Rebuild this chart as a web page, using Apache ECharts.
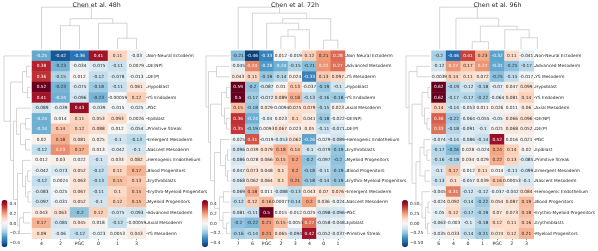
<!DOCTYPE html>
<html><head><meta charset="utf-8">
<script src="https://cdn.jsdelivr.net/npm/echarts@6/dist/echarts.min.js"></script>
<style>html,body{margin:0;padding:0;background:#fff}#c{width:598px;height:251px}</style>
</head><body><div id="c"></div>
<script>
// ---------- DATA ----------
const title48 = 'Chen et al. 48h';
const cols48 = ['4','2','PGC','0','1','3'];
const rows48 = ['Non-Neural Ectoderm','DE(NP)','DE(P)','Hypoblast','YS Endoderm','PGC','Epiblast','Primitive Streak','Emergent Mesoderm','Nascent Mesoderm','Hemogenic Endothelium','Blood Progenitors','Erythroblasts','Erythro-Myeloid Progenitors','Myeloid Progenitors','Advanced Mesoderm','Axial Mesoderm','YS Mesoderm'];
const vals48 = [
 [-0.25,-0.42,-0.36,0.41,0.11,-0.03],
 [0.38,-0.23,-0.034,-0.075,-0.11,0.0079],
 [0.36,-0.15,0.012,-0.12,-0.078,-0.013],
 [0.52,-0.23,-0.075,-0.18,-0.11,0.061],
 [0.41,-0.24,-0.096,-0.23,-0.00059,0.12],
 [-0.089,-0.039,0.43,-0.039,-0.015,-0.025],
 [-0.24,0.014,0.11,0.053,0.093,0.0026],
 [-0.24,0.14,0.12,0.088,0.012,-0.054],
 [0.02,0.18,0.081,0.025,-0.1,-0.13],
 [-0.12,0.23,0.17,0.013,-0.042,-0.1],
 [0.012,0.03,0.022,-0.1,0.033,0.082],
 [-0.042,-0.073,0.052,-0.12,0.11,0.17],
 [-0.12,0.0024,0.063,-0.13,0.15,0.13],
 [-0.083,-0.025,0.067,-0.11,0.1,0.15],
 [-0.097,-0.031,0.052,-0.1,0.12,0.15],
 [0.043,0.063,-0.2,0.12,-0.075,-0.093],
 [0.17,-0.085,0.045,0.018,-0.12,-0.00059],
 [0.09,-0.06,-0.12,-0.023,0.0053,0.043]
];
const top48 = [[4,5,11],[3,'m0',26],[1,2,23.5],['m2','m1',30.5],[0,'m3',42]];
const left48 = [[1,2,4],[3,4,3],['m0','m1',8],[6,7,5],[8,9,5],['m3','m4',10],[5,'m5',14],[11,12,3],[13,14,2.5],['m7','m8',5],[10,'m9',8],[15,16,7],['m11',17,11],['m10','m12',13],['m6','m13',17],['m2','m14',20],[0,'m15',26.5]];
const vmax48 = 0.49;
const cbTicks48 = [0.4,0.2,0,-0.2,-0.4];
const cbLabels48 = ['0.4','0.2','0.0','\u22120.2','\u22120.4'];

const title72 = 'Chen et al. 72h';
const cols72 = ['7','6','PGC','2','3','4','0','1'];
const rows72 = ['Non Neural Ectoderm','Advanced Mesoderm','YS Mesoderm','Hypoblast','YS Endoderm','Axial Mesoderm','DE(NP)','DE(P)','Hemogenic Endothelium','Erythroblasts','Myeloid Progenitors','Blood Progenitors','Erythro-Myeloid Progenitors','Emergent Mesoderm','Nascent Mesoderm','PGC','Epiblast','Primitive Streak'];
const vals72 = [
 [-0.21,-0.46,-0.33,0.012,-0.019,0.12,0.21,0.28],
 [-0.045,0.24,-0.28,-0.24,-0.15,-0.21,0.22,0.27],
 [0.043,0.11,-0.19,-0.14,0.024,-0.33,0.13,0.097],
 [0.59,-0.2,-0.087,0.01,0.13,-0.037,-0.19,-0.1],
 [0.5,-0.17,-0.072,0.089,0.18,-0.13,-0.16,-0.18],
 [0.15,-0.18,0.029,-0.0094,0.075,0.079,-0.15,0.023],
 [0.36,-0.24,-0.04,0.023,0.1,0.041,-0.18,-0.022],
 [0.35,-0.19,0.0093,0.067,0.023,0.05,-0.11,-0.071],
 [-0.025,0.31,-0.019,-0.053,0.062,-0.26,-0.029,-0.089],
 [-0.096,0.039,0.079,0.18,0.14,-0.1,-0.079,-0.19],
 [-0.086,0.028,0.066,0.15,0.2,-0.2,-0.097,-0.2],
 [-0.047,0.073,0.048,0.1,0.2,-0.18,-0.11,-0.19],
 [-0.068,0.062,0.064,0.1,0.21,-0.18,-0.14,-0.19],
 [-0.069,0.18,0.011,-0.088,-0.13,0.043,0.07,0.076],
 [-0.12,0.12,0.16,0.00077,-0.14,0.2,0.036,-0.024],
 [-0.081,-0.11,0.5,0.015,-0.012,0.025,-0.098,-0.096],
 [-0.2,-0.22,0.21,0.15,-0.0051,0.27,-0.058,-0.048],
 [-0.16,-0.14,0.21,0.065,-0.094,0.42,-0.052,-0.037]
];
const top72 = [[6,7,9],[3,4,13],['m1',5,19.5],[2,'m2',26],['m3','m0',30.5],[1,'m4',36],[0,'m5',42]];
const left72 = [[1,2,13],[3,4,3],[6,7,3],[5,'m2',5],['m1','m3',8],[9,10,2],[11,12,2],['m5','m6',4],[8,'m7',9],[13,14,6],[16,17,3],[15,'m10',6.5],['m9','m11',10],['m8','m12',15],['m4','m13',19],['m0','m14',21],[0,'m15',23.5]];
const vmax72 = 0.49;
const cbTicks72 = [0.4,0.2,0,-0.2,-0.4];
const cbLabels72 = ['0.4','0.2','0.0','\u22120.2','\u22120.4'];

const title96 = 'Chen et al. 96h';
const cols96 = ['6','4','0','1','PGC','2','3'];
const rows96 = ['Non-Neural Ectoderm','Advanced Mesoderm','YS Mesoderm','Hypoblast','YS Endoderm','Axial Mesoderm','DE(NP)','DE(P)','PGC','Epiblast','Primitive Streak','Emergent Mesoderm','Nascent Mesoderm','Hemogenic Endothelium','Blood Progenitors','Erythro-Myeloid Progenitors','Erythroblasts','Myeloid Progenitors'];
const vals96 = [
 [-0.2,-0.46,0.41,0.23,-0.32,0.11,-0.041],
 [-0.12,0.27,0.17,0.27,-0.31,-0.25,-0.17],
 [-0.0039,0.14,0.11,0.072,-0.25,-0.15,-0.017],
 [0.62,-0.19,-0.12,-0.18,-0.07,0.047,0.099],
 [0.62,-0.17,-0.17,-0.22,-0.064,0.081,0.14],
 [0.14,-0.14,-0.053,0.011,0.026,0.011,0.06],
 [0.36,-0.22,-0.064,-0.055,-0.05,0.066,0.096],
 [0.33,-0.18,-0.091,-0.1,0.021,0.068,0.052],
 [-0.074,-0.14,-0.086,-0.14,0.52,0.016,0.021],
 [-0.17,-0.26,0.028,-0.024,0.24,0.14,0.02],
 [-0.16,-0.18,0.034,0.029,0.22,0.13,-0.085],
 [-0.1,0.17,-0.012,0.11,0.014,-0.11,-0.099],
 [-0.13,0.1,-0.057,0.039,0.16,0.00053,-0.1],
 [-0.045,0.31,-0.12,-0.12,-0.037,-0.042,0.084],
 [-0.024,0.092,-0.14,-0.22,0.054,0.087,0.19],
 [-0.05,0.12,-0.17,-0.19,0.07,0.073,0.18],
 [-0.063,-0.003,-0.1,-0.18,0.12,0.11,0.16],
 [-0.035,0.033,-0.14,-0.21,0.074,0.12,0.21]
];
const top96 = [[2,3,7.5],[5,6,11.5],[4,'m1',19.5],['m0','m2',23],[1,'m3',31],[0,'m4',42]];
const left96 = [[1,2,13],[3,4,2],[6,7,3],[5,'m2',5.5],['m1','m3',8],[9,10,3],[8,'m5',6],[11,12,5],['m6','m7',10],[14,15,2],[16,17,2.5],['m9','m10',4.5],[13,'m11',8],['m8','m12',14],['m4','m13',18],['m0','m14',21],[0,'m15',24]];
const vmax96 = 0.6;
const cbTicks96 = [0.5,0.25,0,-0.25,-0.5];
const cbLabels96 = ['0.50','0.25','0.00','\u22120.25','\u22120.50'];

// ---------- STYLE / LAYOUT ----------
const FONT = 'DejaVu Sans';
const TXT = '#262626';
const DCOL = '#c4c4c4';
const RDBU_R = ['#053061','#2166ac','#4393c3','#92c5de','#d1e5f0','#f7f7f7','#fddbc7','#f4a582','#d6604d','#b2182b','#67001f'];
const HM_TOP = 50.7, HM_H = 188, HM_W = 114, CB_TOP = 200, CB_H = 47, CB_W = 6;

const panels = [
 {title:title48, cols:cols48, rows:rows48, vals:vals48, top:top48, left:left48, vmax:vmax48, ticks:cbTicks48, labels:cbLabels48, hmLeft:32, titleX:96.7, cbLeft:1.5},
 {title:title72, cols:cols72, rows:rows72, vals:vals72, top:top72, left:left72, vmax:vmax72, ticks:cbTicks72, labels:cbLabels72, hmLeft:231, titleX:295, cbLeft:202},
 {title:title96, cols:cols96, rows:rows96, vals:vals96, top:top96, left:left96, vmax:vmax96, ticks:cbTicks96, labels:cbLabels96, hmLeft:431.5, titleX:497.5, cbLeft:402}
];

function hex(c){return [1,3,5].map(i=>parseInt(c.slice(i,i+2),16));}
function cmap(t){
  t=Math.max(0,Math.min(1,t)); const s=t*10; const i=Math.min(9,Math.floor(s)); const f=s-i;
  const a=hex(RDBU_R[i]), b=hex(RDBU_R[i+1]); return a.map((v,k)=>v+(b[k]-v)*f);
}
function lum(rgb){
  const l=rgb.map(c=>{c/=255;return c<=0.03928?c/12.92:Math.pow((c+0.055)/1.055,2.4);});
  return 0.2126*l[0]+0.7152*l[1]+0.0722*l[2];
}
function dendro(merges){
  const pos=[], ht=[], out=[];
  const get=r=>typeof r==='number'?[r,0]:[pos[+r.slice(1)],ht[+r.slice(1)]];
  merges.forEach((m,k)=>{
    const [xa,ha]=get(m[0]), [xb,hb]=get(m[1]), h=m[2];
    pos[k]=(xa+xb)/2; ht[k]=h;
    out.push([[xa,ha],[xa,h],[xb,h],[xb,hb]]);
  });
  return out;
}

const grid=[], xAxis=[], yAxis=[], series=[], visualMap=[], title=[];
const hidden = {show:false};
panels.forEach((p,pi)=>{
  const n=p.rows.length, m=p.cols.length;
  title.push({text:p.title, left:p.titleX, top:2.5, textAlign:'center', padding:0,
    textStyle:{fontSize:6.3, fontWeight:'normal', color:TXT, fontFamily:FONT}});
  // heatmap
  const gH=grid.length;
  grid.push({left:p.hmLeft, top:HM_TOP, width:HM_W, height:HM_H});
  xAxis.push({type:'category', gridIndex:gH, data:p.cols, axisLine:hidden, splitLine:hidden,
    axisTick:{show:true, length:1.5, alignWithLabel:true, lineStyle:{color:TXT, width:0.5}},
    axisLabel:{fontSize:4.6, color:TXT, margin:2.5, fontFamily:FONT}});
  yAxis.push({type:'category', gridIndex:gH, data:p.rows, inverse:true, position:'right', axisLine:hidden, splitLine:hidden,
    axisTick:{show:true, length:1.6, alignWithLabel:true, lineStyle:{color:TXT, width:0.5}},
    axisLabel:{fontSize:4.3, color:TXT, margin:1.5, fontFamily:FONT}});
  const data=[];
  p.vals.forEach((row,ri)=>row.forEach((v,ci)=>{
    const rgb=cmap((v+p.vmax)/(2*p.vmax));
    data.push({value:[ci,ri,v], label:{color: lum(rgb)>0.408?'#262626':'#ffffff'}});
  }));
  const hsi=series.length;
  series.push({type:'heatmap', xAxisIndex:gH, yAxisIndex:gH, data,
    label:{show:true, fontSize:4.3, fontFamily:FONT, formatter:q=>String(q.value[2])},
    itemStyle:{borderWidth:0}, emphasis:{disabled:true}});
  visualMap.push({type:'continuous', seriesIndex:hsi, dimension:2, min:-p.vmax, max:p.vmax,
    inRange:{color:RDBU_R}, calculable:false, hoverLink:false, padding:0,
    left:p.cbLeft, top:CB_TOP, itemWidth:CB_W, itemHeight:CB_H, orient:'vertical'});
  // top dendrogram
  const gT=grid.length; const TH=44;
  grid.push({left:p.hmLeft, top:HM_TOP-1.5-TH, width:HM_W, height:TH});
  xAxis.push({type:'value', gridIndex:gT, min:-0.5, max:m-0.5, show:false});
  yAxis.push({type:'value', gridIndex:gT, min:0, max:TH, show:false});
  series.push({type:'lines', coordinateSystem:'cartesian2d', xAxisIndex:gT, yAxisIndex:gT, polyline:true, silent:true,
    lineStyle:{color:DCOL, width:0.7, opacity:1},
    data:dendro(p.top).map(c=>({coords:c}))});
  // left dendrogram
  const gL=grid.length; const LW=30;
  grid.push({left:p.hmLeft-1.5-LW, top:HM_TOP, width:LW, height:HM_H});
  xAxis.push({type:'value', gridIndex:gL, min:0, max:LW, inverse:true, show:false});
  yAxis.push({type:'value', gridIndex:gL, min:-0.5, max:n-0.5, inverse:true, show:false});
  series.push({type:'lines', coordinateSystem:'cartesian2d', xAxisIndex:gL, yAxisIndex:gL, polyline:true, silent:true,
    lineStyle:{color:DCOL, width:0.7, opacity:1},
    data:dendro(p.left).map(c=>({coords:[...c].map(([h,x])=>[h,x])}))});
  // colorbar ticks
  const gC=grid.length;
  grid.push({left:p.cbLeft, top:CB_TOP, width:CB_W, height:CB_H});
  xAxis.push({type:'value', gridIndex:gC, show:false, min:0, max:1});
  yAxis.push({type:'value', gridIndex:gC, min:-p.vmax, max:p.vmax, position:'right', axisLine:hidden, splitLine:hidden,
    axisTick:{show:true, length:1.5, customValues:p.ticks, lineStyle:{color:TXT, width:0.5}},
    axisLabel:{fontSize:4.3, color:TXT, margin:2, fontFamily:FONT, customValues:p.ticks,
      formatter:v=>{let b=0;p.ticks.forEach((t,i)=>{if(Math.abs(t-v)<Math.abs(p.ticks[b]-v))b=i;});return p.labels[b];}}});
});
// left dendrogram coords: [height, rowPos]
series.forEach(s=>{});
const chart=echarts.init(document.getElementById('c'),null,{renderer:'canvas'});
// fix left dendrogram orientation: dendro gives [pos,h]; swap to [h,pos]
series.forEach((s,i)=>{ if(s.type==='lines' && xAxis[s.xAxisIndex].inverse){ s.data=s.data.map(d=>({coords:d.coords.map(([a,b])=>[b,a])})); } });
chart.setOption({animation:false, textStyle:{fontFamily:FONT}, title, grid, xAxis, yAxis, series, visualMap});
</script></body></html>
